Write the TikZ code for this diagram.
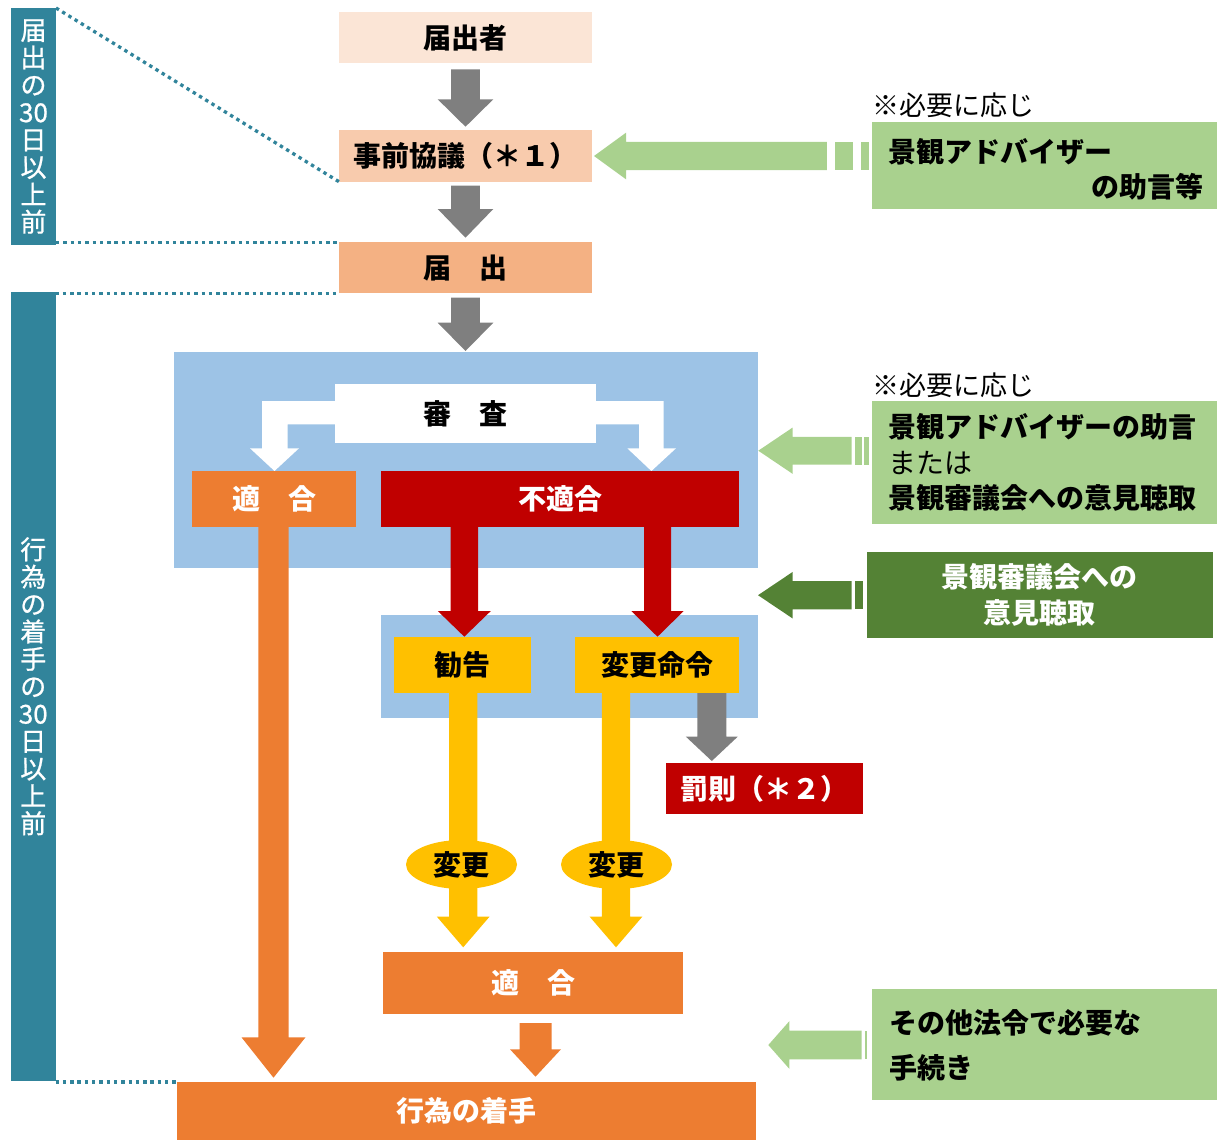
\documentclass[tikz,border=0pt]{standalone}
\usepackage{fontspec}
\setmainfont{Noto Sans CJK JP}
\newfontfamily\medjp[FakeBold=0.8]{Noto Sans CJK JP}
\usetikzlibrary{calc,shapes.geometric}
\definecolor{cTeal}{HTML}{31849B}
\definecolor{cPeachA}{HTML}{FBE5D6}
\definecolor{cPeachB}{HTML}{F8CBAD}
\definecolor{cPeachC}{HTML}{F4B183}
\definecolor{cGray}{HTML}{7F7F7F}
\definecolor{cBlue}{HTML}{9DC3E6}
\definecolor{cOrange}{HTML}{ED7D31}
\definecolor{cRed}{HTML}{C00000}
\definecolor{cYellow}{HTML}{FFC000}
\definecolor{cLGreen}{HTML}{A9D18E}
\definecolor{cDGreen}{HTML}{548235}
% down block arrow: style, cx, ytop, yhead, ytip, shaft half, head half
\newcommand\dnblock[7]{\fill[#1] ({#2-#6},#3) -- ({#2+#6},#3) -- ({#2+#6},#4) -- ({#2+#7},#4) -- (#2,#5) -- ({#2-#7},#4) -- ({#2-#6},#4) -- cycle;}
% left block arrow: style, cy, xtip, xheadbase, xshaftend, shaft half, head half
\newcommand\ltblock[7]{\fill[#1] (#3,#2) -- (#4,{#2-#7}) -- (#4,{#2-#6}) -- (#5,{#2-#6}) -- (#5,{#2+#6}) -- (#4,{#2+#6}) -- (#4,{#2+#7}) -- cycle;}
\begin{document}
\begin{tikzpicture}[x=1pt,y=-1pt,
  every node/.style={inner sep=0pt, outer sep=0pt},
  lbl/.style={font=\fontsize{28}{32}\selectfont\bfseries},
  boxn/.style={rectangle, lbl, text=black},
  wboxn/.style={rectangle, lbl, text=white},
  ovaln/.style={ellipse, lbl, text=black},
  vbar/.style={rectangle, fill=cTeal, text=white, align=center, font=\fontsize{26}{27.4}\selectfont\medjp},
  note/.style={anchor=west, font=\fontsize{27}{32}\selectfont},
  dotline/.style={draw=cTeal, line width=3.3pt, dash pattern=on 3.4pt off 3.9pt},
  grayarr/.style={fill=cGray},
  blk/.style={fill=cLGreen},
  dblk/.style={fill=cDGreen}]
\useasboundingbox (0,0) rectangle (1217,1140);

% left bars
\node[vbar, minimum width=45pt, minimum height=237pt] (bar1) at (33.5,126.5) {届\\出\\の\\30\\日\\以\\上\\前};
\node[vbar, minimum width=44.5pt, minimum height=789.5pt] (bar2) at (33.25,686.25) {行\\為\\の\\着\\手\\の\\30\\日\\以\\上\\前};

% top chain
\node[boxn, fill=cPeachA, minimum width=252.7pt, minimum height=51pt] (n1) at (465.3,37.8) {届出者};
\node[boxn, fill=cPeachB, minimum width=252.7pt, minimum height=51.4pt] (n2) at (465.3,156) {事前協議（＊１）};
\node[boxn, fill=cPeachC, minimum width=252.7pt, minimum height=51pt] (n3) at (465.3,267.8) {届　出};

\dnblock{grayarr}{465.5}{69.3}{99.3}{126.7}{14.3}{27.8}
\dnblock{grayarr}{465.5}{185.7}{209}{237.7}{14.3}{27.8}
\dnblock{grayarr}{465.5}{297.7}{322.7}{351}{14.3}{27.8}

% dotted guide lines
\draw[dotline] (bar1.north east) -- (n2.south west);
\draw[dotline] (n3.north west -| bar1.east) -- (n3.north west);
\draw[dotline] (n3.south west -| bar2.east) -- (n3.south west);

% blue regions
\node[rectangle, fill=cBlue, minimum width=584pt, minimum height=216pt] (blue1) at (466,460) {};
\node[rectangle, fill=cBlue, minimum width=377.3pt, minimum height=103.3pt] (blue2) at (569.7,666.7) {};

% review split arrows (white)
\fill[white] (335,401) -- (262.2,401) -- (262.2,448.3) -- (250,448.3) -- (274.5,471) -- (299,448.3) -- (287.5,448.3) -- (287.5,424.3) -- (335,424.3) -- cycle;
\fill[white] (595,401) -- (663.7,401) -- (663.7,448.3) -- (676,448.3) -- (651.4,471) -- (627.3,448.3) -- (639.2,448.3) -- (639.2,424.3) -- (595,424.3) -- cycle;
\node[boxn, fill=white, minimum width=261pt, minimum height=59pt] (shinsa) at (465,413.8) {審　査};

% long arrows
\dnblock{fill=cOrange}{273.5}{527}{1037.3}{1077.7}{15.1}{32}
\dnblock{fill=cRed}{464.3}{520}{611}{636.7}{13.75}{26.5}
\dnblock{fill=cRed}{657.5}{520}{611}{636.7}{13.5}{26.2}
\dnblock{fill=cYellow}{463.2}{690}{916.7}{947.3}{14.2}{26.3}
\dnblock{fill=cYellow}{616}{690}{916.7}{947.3}{14.2}{26.3}
\dnblock{grayarr}{711.8}{690}{736.7}{761}{14.5}{25.9}
\dnblock{fill=cOrange}{535.5}{1023}{1049.3}{1076.7}{16}{25.5}

% review results
\node[wboxn, fill=cOrange, minimum width=164pt, minimum height=56pt] (tek1) at (274,499) {適　合};
\node[wboxn, fill=cRed, minimum width=358pt, minimum height=56pt] (futek) at (560,499) {不適合};
\node[boxn, fill=cYellow, minimum width=137pt, minimum height=55.4pt] (kan) at (462.5,665) {勧告};
\node[boxn, fill=cYellow, minimum width=164pt, minimum height=55.4pt] (mei) at (657,665) {変更命令};
\node[wboxn, fill=cRed, minimum width=196.7pt, minimum height=51pt] (bat) at (764.3,788.8) {罰則（＊２）};

\node[ovaln, fill=cYellow, minimum width=111pt, minimum height=49pt] (hen1) at (461.5,864.5) {変更};
\node[ovaln, fill=cYellow, minimum width=111pt, minimum height=49pt] (hen2) at (616.5,864.5) {変更};

\node[wboxn, fill=cOrange, minimum width=300pt, minimum height=62.3pt] (tek2) at (533,982.8) {適　合};
\node[wboxn, fill=cOrange, minimum width=579pt, minimum height=58pt] (kou) at (466.5,1111) {行為の着手};
\draw[dotline] (kou.north west -| bar2.east) -- (kou.north west);

% right side: advisor 1
\node[note] (note1) at (872,105) {※必要に応じ};
\node[rectangle, fill=cLGreen, minimum width=345pt, minimum height=87.6pt] (g1) at (1044.5,165.5) {};
\node[lbl, anchor=west] (g1a) at (888,151.7) {景観アドバイザー};
\node[lbl, anchor=east] (g1b) at (1203,186.7) {の助言等};
\ltblock{blk}{156}{594}{626}{826.8}{14.2}{23.3}
\fill[blk] (834.8,141.8) rectangle (852.8,170.2);
\fill[blk] (861,141.8) rectangle (868.8,170.2);

% right side: advisor 2
\node[note] (note2) at (872,385) {※必要に応じ};
\node[rectangle, fill=cLGreen, minimum width=345.3pt, minimum height=123.6pt] (g2) at (1044.35,462.5) {};
\node[anchor=west, align=left, font=\fontsize{28}{35.8}\selectfont] (g2t) at (888,462.5) {{\bfseries 景観アドバイザーの助言}\\または\\{\bfseries 景観審議会への意見聴取}};
\ltblock{blk}{450.7}{758.3}{792.7}{851.7}{13.8}{23.2}
\fill[blk] (855,436.9) rectangle (861.7,464.5);
\fill[blk] (864.3,436.9) rectangle (869,464.5);

% right side: council
\node[rectangle, fill=cDGreen, text=white, align=center, font=\fontsize{28}{36.6}\selectfont\bfseries, minimum width=346pt, minimum height=86.6pt] (dg) at (1039.7,595) {景観審議会への\\意見聴取};
\ltblock{dblk}{595.2}{758}{792.7}{851.7}{14.2}{23.3}
\fill[dblk] (855,581) rectangle (862.7,609.4);

% right side: other laws
\node[rectangle, fill=cLGreen, minimum width=345.3pt, minimum height=110.7pt] (g3) at (1044.35,1044.65) {};
\node[anchor=west, align=left, font=\fontsize{28}{45}\selectfont\bfseries] (g3t) at (889,1045.2) {その他法令で必要な\\手続き};
\ltblock{blk}{1045}{768.3}{789.3}{861.7}{14.3}{23.8}
\fill[blk] (865,1030.7) rectangle (867.3,1059.3);
\end{tikzpicture}
\end{document}
